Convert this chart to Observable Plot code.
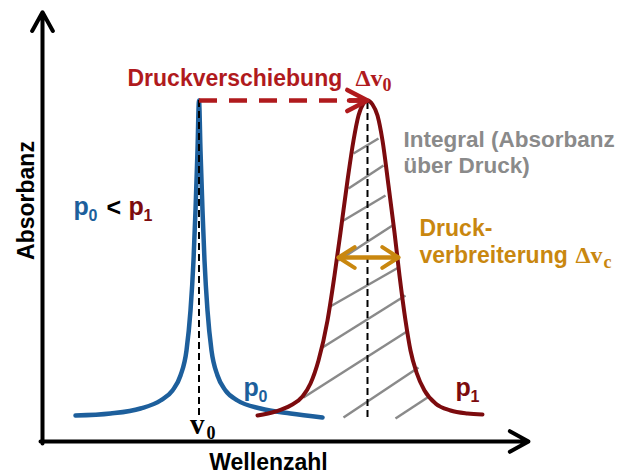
<!DOCTYPE html>
<html><head><meta charset="utf-8">
<script src="https://cdn.jsdelivr.net/npm/d3@7"></script>
<script src="https://cdn.jsdelivr.net/npm/@observablehq/plot@0.6"></script>
<style>html,body{margin:0;padding:0;background:#fff}</style>
</head><body><div id="chart"></div>
<script>
// Curve p0 (narrow line, low pressure): Wellenzahl / Absorbanz (arbitrary units)
const wellenzahlP0 = [6.6,13.6,19.6,23.6,26,27.6,28.8,29.6,30.2,30.6,31,31.3,31.6,32,32.4,33,33.8,35,36.6,39,43.6,49.6,56];
const absorbanzP0  = [6.5,7,8.25,10.25,12.75,16.5,22.75,32.75,45.25,57.75,72.75,85.25,72.75,57.75,45.25,32.75,22.75,16.5,12.75,10.25,8.25,7,6];
// Curve p1 (shifted, broadened line, high pressure)
const wellenzahlP1 = [43,46.6,49.6,52,53.6,55.2,57,58.4,59.6,61,62.2,63.2,64.2,65,66,67,68,69.2,70.4,71.4,72.6,73.6,74.8,76.4,78.6,81.6,85,88];
const absorbanzP1  = [6.5,7.5,9,11.25,14.5,20.25,30.25,41.5,52.25,65.25,75.25,81.5,84.5,85.25,84.25,81.5,75.25,64,52.25,41.5,30.25,22.75,17.25,12.75,9.5,7.75,7,6.75];
// Hatching of the integral under p1
const hatchX1 = [62.2,61.2,60.2,59.2,57.2,56,52.2,60.2,70.6];
const hatchY1 = [72,63.25,55.25,45.25,33.5,23.5,11,6,5.75];
const hatchX2 = [67.2,68.2,68.6,70,71.2,72.6,73.2,75.2,77];
const hatchY2 = [75.75,69,61.5,54,43.5,36.5,27.75,18.5,11];
// Broadening arrow extent and baseline
const broadening = [59.2, 71.2];
const broadeningLevel = 46;
const baseline = 6;
// Labels
const title = "Druckverschiebung";
const integralText = "Integral (Absorbanz\nüber Druck)";
const broadText = "Druck-\nverbreiterung";
const xLabel = "Wellenzahl";
const yLabel = "Absorbanz";

const blue = "#1d5f9c", darkRed = "#7c0b0e", red = "#b01a1d", orange = "#c9870f", gray = "#8a8a8a";

const i0 = d3.maxIndex(absorbanzP0), i1 = d3.maxIndex(absorbanzP1);
const nu0 = wellenzahlP0[i0], nu1 = wellenzahlP1[i1];
const peak = absorbanzP1[i1];

const sans = "Liberation Sans, Arial, sans-serif";
const serif = "Liberation Serif, Times New Roman, serif";
const T = (s, x, y, o = {}) => Plot.text([s], {x, y, text: d => d, textAnchor: "start", lineAnchor: "bottom",
  fontFamily: sans, fontWeight: "bold", fontSize: 23, ...o});

const chart = Plot.plot({
  width: 641, height: 475,
  marginLeft: 42, marginRight: 114, marginTop: 12, marginBottom: 34,
  x: {domain: [0, 97], axis: null},
  y: {domain: [0, 107.25], axis: null},
  style: {background: "white", fontFamily: sans},
  marks: [
    Plot.link(d3.range(hatchX1.length), {x1: hatchX1, y1: hatchY1, x2: hatchX2, y2: hatchY2, stroke: gray, strokeWidth: 2.5}),
    Plot.line(d3.range(wellenzahlP0.length), {x: wellenzahlP0, y: absorbanzP0, curve: "monotone-x", stroke: blue, strokeWidth: 4.5}),
    Plot.line(d3.range(wellenzahlP1.length), {x: wellenzahlP1, y: absorbanzP1, curve: "monotone-x", stroke: darkRed, strokeWidth: 4}),
    Plot.ruleX([nu0], {y1: baseline + 0.5, y2: peak, stroke: "black", strokeWidth: 2, strokeDasharray: "7,4"}),
    Plot.ruleX([nu1], {y1: baseline, y2: peak, stroke: "black", strokeWidth: 2, strokeDasharray: "7,4"}),
    Plot.link([0], {x1: nu0, y1: peak, x2: nu1, y2: peak, stroke: red, strokeWidth: 4.5, strokeDasharray: "18,12"}),
    Plot.arrow([0], {x1: nu0, y1: peak, x2: nu1, y2: peak, stroke: red, strokeWidth: 4.5, headLength: 7.6, headAngle: 55, insetStart: 150}),
    Plot.arrow([0], {x1: broadening[0], x2: broadening[1], y1: broadeningLevel, y2: broadeningLevel, stroke: orange, strokeWidth: 4, headLength: 7.2, headAngle: 65}),
    Plot.arrow([0], {x1: broadening[1], x2: broadening[0], y1: broadeningLevel, y2: broadeningLevel, stroke: orange, strokeWidth: 4, headLength: 7.2, headAngle: 65}),
    Plot.arrow([0], {x1: 0, y1: -0.5, x2: 0, y2: 107.3, stroke: "black", strokeWidth: 4, headLength: 8, headAngle: 58}),
    Plot.arrow([0], {x1: -0.4, y1: 0, x2: 97.2, y2: 0, stroke: "black", strokeWidth: 4, headLength: 8, headAngle: 58}),
    // title
    T(title, 17, 89, {fill: red}),
    T("Δv", 62.6, 89, {fill: red, fontFamily: serif, fontSize: 24}),
    T("0", 68.0, 87.75, {fill: red, fontFamily: serif, fontSize: 18}),
    // integral (two lines, one text)
    T(integralText, 72.2, 67.25, {fill: gray, fontSize: 22.5, lineHeight: 1.1333}),
    // broadening (two lines, one text)
    T(broadText, 75.4, 44.75, {fill: orange, lineHeight: 1.174}),
    T("Δv", 106.6, 44.75, {fill: orange, fontFamily: serif, fontSize: 24}),
    T("c", 112.2, 43.5, {fill: orange, fontFamily: serif, fontSize: 18}),
    // p0 < p1
    T("p", 6.2, 56.75, {fill: blue, fontSize: 25}),
    T("0", 9.2, 55.25, {fill: blue, fontSize: 16}),
    T("<", 12.8, 56.5, {fill: "black", fontSize: 25}),
    T("p", 17.2, 56.75, {fill: darkRed, fontSize: 25}),
    T("1", 20.2, 55.25, {fill: darkRed, fontSize: 16}),
    // curve labels
    T("p", 40.2, 11.5, {fill: blue, fontSize: 25}),
    T("0", 43.2, 10, {fill: blue, fontSize: 16}),
    T("p", 82.6, 11.5, {fill: darkRed, fontSize: 25}),
    T("1", 85.6, 10, {fill: darkRed, fontSize: 16}),
    // v0
    T("v", nu0 - 1.8, 2, {fill: "black", fontFamily: serif, fontSize: 29}),
    T("0", nu0 + 1.5, 0.75, {fill: "black", fontFamily: serif, fontSize: 18}),
    // axis labels
    T(xLabel, 45.2, -7, {fill: "black", textAnchor: "middle"}),
    T(yLabel, -1.8, 60.25, {fill: "black", textAnchor: "middle", rotate: -90})
  ]
});
document.getElementById("chart").appendChild(chart);
</script>
</body></html>
